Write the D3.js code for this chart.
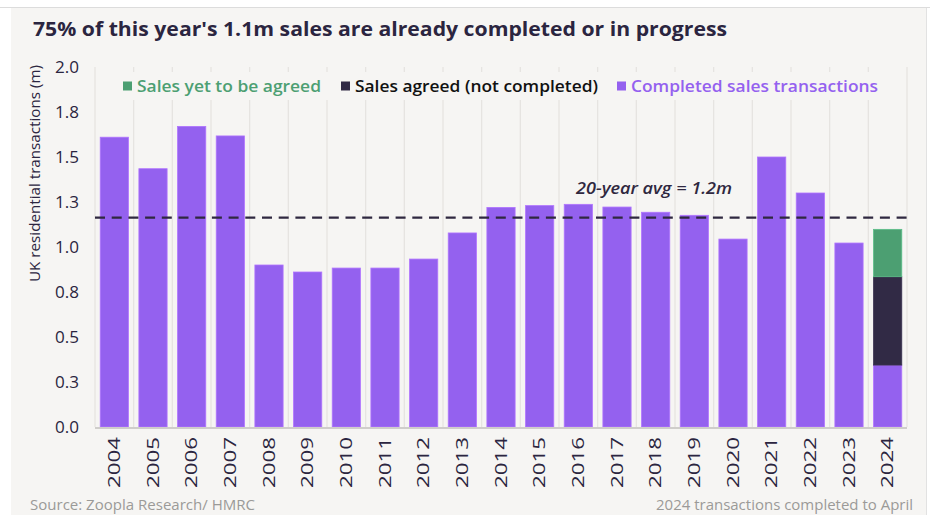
<!DOCTYPE html>
<html>
<head>
<meta charset="utf-8">
<script src="https://cdn.jsdelivr.net/npm/d3@7"></script>
<style>
  body { margin: 0; background: #fff; }
  svg { display: block; font-family: "Open Sans", "Noto Sans", sans-serif; }
</style>
</head>
<body>
<script>

// values (millions)
var years = ["2004","2005","2006","2007","2008","2009","2010","2011","2012","2013",
             "2014","2015","2016","2017","2018","2019","2020","2021","2022","2023","2024"];
var completed = [1.61, 1.435, 1.67, 1.617, 0.90, 0.861, 0.883, 0.883, 0.933, 1.078,
                 1.22, 1.23, 1.237, 1.222, 1.193, 1.176, 1.044, 1.50, 1.30, 1.022, 0.344];
var agreed    = [0,0,0,0,0,0,0,0,0,0,0,0,0,0,0,0,0,0,0,0, 0.491];
var yetToAgree = [0,0,0,0,0,0,0,0,0,0,0,0,0,0,0,0,0,0,0,0, 0.263];
var yTicks = [0, 0.25, 0.5, 0.75, 1, 1.25, 1.5, 1.75, 2];
var avgValue = 1.163;

var seriesNames = ["Sales yet to be agreed", "Sales agreed (not completed)", "Completed sales transactions"];
var seriesColors = {"completed": "#9461ef", "agreed": "#312a45", "yet": "#4c9f72"};

var width = 930, height = 515;
var margin = {top: 67, right: 23, bottom: 88, left: 95};

var svg = d3.select("body").append("svg")
    .attr("width", width)
    .attr("height", height);

// panel
svg.append("line").attr("x1", 0).attr("x2", width).attr("y1", 7.5).attr("y2", 7.5)
    .attr("stroke", "#dcdcdc");
svg.append("rect").attr("x", 11).attr("y", 8).attr("width", 915).attr("height", height)
    .attr("fill", "#f6f5f3");
svg.append("line").attr("x1", 926.5).attr("x2", 926.5).attr("y1", 8).attr("y2", height)
    .attr("stroke", "#e2e2e2");

var x = d3.scaleBand().domain(years)
    .range([margin.left, width - margin.right])
    .paddingInner(0.27).paddingOuter(0.135);
var y = d3.scaleLinear().domain([0, 2]).range([height - margin.bottom, margin.top]);

var table = years.map(function(yr, i) {
  return {year: yr, completed: completed[i], agreed: agreed[i], yet: yetToAgree[i]};
});
var stack = d3.stack().keys(["completed", "agreed", "yet"])(table);

// vertical grid at category boundaries
var step = x.step();
var bounds = d3.range(years.length + 1).map(function(i) { return margin.left + i * step; });
svg.append("g").selectAll("line").data(bounds).enter().append("line")
    .attr("x1", function(d) { return d; }).attr("x2", function(d) { return d; })
    .attr("y1", y(2)).attr("y2", y(0))
    .attr("stroke", "#e6e4e1").attr("stroke-width", 1.3);

// legend backing (hides grid lines)
svg.append("rect").attr("x", 115).attr("y", 72).attr("width", 776).attr("height", 28)
    .attr("fill", "#f6f5f3");

// bars
svg.append("g").selectAll("g").data(stack).enter().append("g")
    .attr("fill", function(d) { return seriesColors[d.key]; })
  .selectAll("rect").data(function(d) { return d.filter(function(p) { return p[1] > p[0]; }); })
  .enter().append("rect")
    .attr("x", function(d) { return x(d.data.year); })
    .attr("width", x.bandwidth())
    .attr("y", function(d) { return y(d[1]); })
    .attr("height", function(d) { return y(d[0]) - y(d[1]); })
    .attr("stroke", function() { return d3.color(d3.select(this.parentNode).attr("fill")).brighter(0.5); })
    .attr("stroke-width", 0.8);

// baseline
svg.append("line").attr("x1", margin.left).attr("x2", width - margin.right)
    .attr("y1", y(0) + 1).attr("y2", y(0) + 1)
    .attr("stroke", "#cfcdcb").attr("stroke-width", 2);

// average line
svg.append("line").attr("x1", margin.left).attr("x2", width - margin.right)
    .attr("y1", y(avgValue)).attr("y2", y(avgValue))
    .attr("stroke", "#2f2840").attr("stroke-width", 2.3)
    .attr("stroke-dasharray", "10,6.7");
svg.append("text").attr("x", 576).attr("y", y(avgValue) - 24)
    .attr("font-size", 16).attr("font-weight", 600).attr("font-style", "italic")
    .attr("fill", "#2f2840")
    .attr("textLength", 156).attr("lengthAdjust", "spacingAndGlyphs")
    .text("20-year avg = 1.2m");

// y axis
var yAxis = d3.axisLeft(y).tickValues(yTicks).tickSize(0).tickPadding(0)
    .tickFormat(function(d) { return d3.format(".1f")(Math.round(d * 10 + 1e-9) / 10); });
var gy = svg.append("g").attr("transform", "translate(79,0)").call(yAxis);
gy.select(".domain").remove();
gy.selectAll("text").attr("font-size", 16).attr("fill", "#2b2540")
    .style("font-family", "Open Sans, sans-serif")
    .attr("textLength", 24).attr("lengthAdjust", "spacingAndGlyphs");

svg.append("text")
    .attr("transform", "translate(40," + 282 + ") rotate(-90)")
    .attr("font-size", 15).attr("fill", "#2b2540")
    .attr("textLength", 217).attr("lengthAdjust", "spacingAndGlyphs")
    .text("UK residential transactions (m)");

// x axis
var xAxis = d3.axisBottom(x).tickSize(0).tickPadding(0);
var gx = svg.append("g").attr("transform", "translate(0," + (y(0) + 10) + ")").call(xAxis);
gx.select(".domain").remove();
gx.selectAll("text")
    .attr("transform", "rotate(-90)")
    .attr("text-anchor", "start")
    .attr("x", -51).attr("y", 0).attr("dy", "0.35em")
    .attr("font-size", 16).attr("fill", "#2b2540")
    .style("font-family", "Open Sans, sans-serif")
    .attr("textLength", 51).attr("lengthAdjust", "spacingAndGlyphs");

// title
svg.append("text").attr("x", 33).attr("y", 36)
    .attr("font-size", 20).attr("font-weight", 700).attr("fill", "#2b2540")
    .attr("textLength", 694).attr("lengthAdjust", "spacingAndGlyphs")
    .text("75% of this year's 1.1m sales are already completed or in progress");

// legend
var legendItems = [
  {name: seriesNames[0], color: seriesColors.yet, x: 123, w: 184},
  {name: seriesNames[1], color: seriesColors.agreed, x: 341, w: 243},
  {name: seriesNames[2], color: seriesColors.completed, x: 617, w: 247}
];
var leg = svg.append("g").selectAll("g").data(legendItems).enter().append("g")
    .attr("transform", function(d) { return "translate(" + d.x + ",86)"; });
leg.append("rect").attr("x", 0).attr("y", -4.5).attr("width", 9).attr("height", 9)
    .attr("fill", function(d) { return d.color; });
leg.append("text").attr("x", 14).attr("dy", "0.35em")
    .attr("font-size", 17).attr("font-weight", 600)
    .attr("fill", function(d) { return d.color === seriesColors.agreed ? "#111" : d.color; })
    .attr("textLength", function(d) { return d.w; }).attr("lengthAdjust", "spacingAndGlyphs")
    .text(function(d) { return d.name; });

// footer
svg.append("text").attr("x", 30).attr("y", 510)
    .attr("font-size", 14).attr("fill", "#9b9a98")
    .attr("textLength", 225).attr("lengthAdjust", "spacingAndGlyphs")
    .text("Source: Zoopla Research/ HMRC");
svg.append("text").attr("x", 656).attr("y", 510)
    .attr("font-size", 14).attr("fill", "#9b9a98")
    .attr("textLength", 257).attr("lengthAdjust", "spacingAndGlyphs")
    .text("2024 transactions completed to April");

</script>
</body>
</html>
